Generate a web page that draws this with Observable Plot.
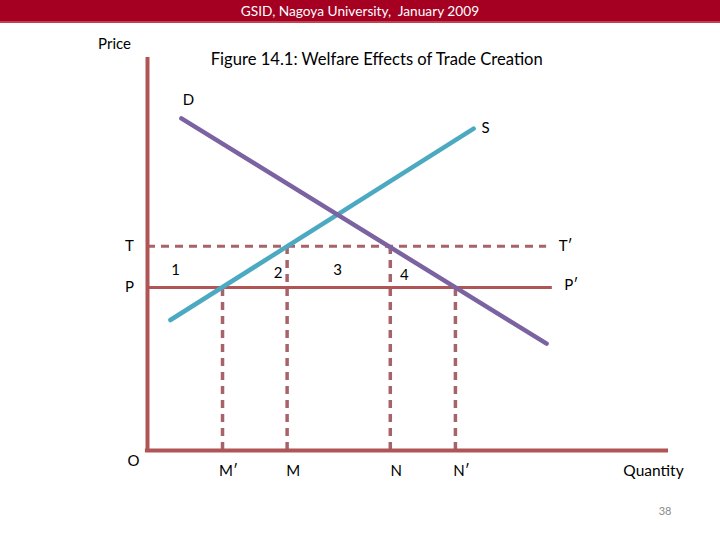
<!DOCTYPE html>
<html><head><meta charset="utf-8">
<script src="https://cdn.jsdelivr.net/npm/d3@7"></script>
<script src="https://cdn.jsdelivr.net/npm/@observablehq/plot@0.6"></script>
<style>
body{margin:0;background:#fff;}
#wrap{position:relative;width:720px;height:540px;overflow:hidden;}
#hdr{position:absolute;left:0;top:0;width:720px;height:21px;background:#a50022;border-bottom:2px solid #c2404f;color:#fff;font:13.7px Lato,"Open Sans",sans-serif;text-align:center;line-height:22px;}
#chart{position:absolute;left:0;top:0;}
</style></head>
<body><div id="wrap"><div id="chart"></div><div id="hdr">GSID, Nagoya University,&nbsp; January 2009</div></div>
<script>
// Price levels
const priceT = 52;     // tariff-inclusive price T
const priceP = 41.5;   // partner price P
// Quantities
const qMp = 14.4, qM = 26.8, qN = 46.6, qNp = 59.1;
const qLineEnd = 76.6, qPEnd = 77.7;
// Demand and supply endpoints
const demandQ = [6.5, 76.6];
const demandP = [84.5, 27.2];
const supplyQ = [4.4, 62.6];
const supplyP = [33.2, 81.9];
const qLabels = ["M′", "M", "N", "N′"];
const qValues = [qMp, qM, qN, qNp];
const areaLabels = ["1", "2", "3", "4"];

const demand = demandQ.map((q, i) => ({q, p: demandP[i]}));
const supply = supplyQ.map((q, i) => ({q, p: supplyP[i]}));
const drops = [
  {q: qMp, p: priceP}, {q: qM, p: priceT}, {q: qN, p: priceT}, {q: qNp, p: priceP}
];
const axisC = "#b05555", dashC = "#a8636a";
const F = "Lato, 'Open Sans', sans-serif";

const plot = Plot.plot({
  width: 720, height: 540,
  marginLeft: 147, marginRight: 52, marginTop: 57, marginBottom: 90,
  x: {domain: [0, 100], axis: null},
  y: {domain: [0, 100], axis: null},
  style: {fontFamily: F, background: "transparent"},
  marks: [
    // dashed drop lines
    Plot.ruleX(drops, {x: "q", y1: 0, y2: "p", stroke: dashC, strokeWidth: 3.5, strokeDasharray: "8,6"}),
    // T dashed horizontal
    Plot.ruleY([priceT], {x1: 0, x2: qLineEnd, stroke: dashC, strokeWidth: 3, strokeDasharray: "8,6"}),
    // P solid horizontal
    Plot.ruleY([priceP], {x1: 0, x2: qPEnd, stroke: axisC, strokeWidth: 3}),
    // supply & demand
    Plot.line(supply, {x: "q", y: "p", stroke: "#4ba9c2", strokeWidth: 4.5, strokeLinecap: "round"}),
    Plot.line(demand, {x: "q", y: "p", stroke: "#7b62a1", strokeWidth: 4.5, strokeLinecap: "round"}),
    // axes
    Plot.ruleX([0], {y1: 0, y2: 100, stroke: axisC, strokeWidth: 4}),
    Plot.ruleY([0], {x1: -0.4, x2: 100, stroke: axisC, strokeWidth: 4}),
    // axis titles
    Plot.text(["Price"], {frameAnchor: "top-left", dx: -33, dy: -19, fontSize: 15, fill: "#000", textAnchor: "middle"}),
    Plot.text(["Quantity"], {x: 100, y: 0, dx: -15, dy: 21, fontSize: 15.5, fill: "#000", textAnchor: "middle"}),
    Plot.text(["O"], {x: 0, y: 0, dx: -14, dy: 11, fontSize: 15, fill: "#000"}),
    Plot.text(["Figure 14.1: Welfare Effects of Trade Creation"], {x: 44, y: 100, dy: 2, fontSize: 16.6, fill: "#000", textAnchor: "middle"}),
    // curve labels
    Plot.text(["D"], {x: demandQ[0], y: demandP[0], dx: 7, dy: -18, fontSize: 15, fill: "#000"}),
    Plot.text(["S"], {x: supplyQ[1], y: supplyP[1], dx: 12, dy: 0, fontSize: 15, fill: "#000"}),
    Plot.text(["T"], {x: 0, y: priceT, dx: -18, fontSize: 15, fill: "#000"}),
    Plot.text(["P"], {x: 0, y: priceP, dx: -18, fontSize: 15, fill: "#000"}),
    Plot.text(["T′"], {x: qLineEnd, y: priceT, dx: 19, fontSize: 15, fill: "#000"}),
    Plot.text(["P′"], {x: qPEnd, y: priceP, dx: 19, dy: -2, fontSize: 15, fill: "#000"}),
    // quantity labels
    Plot.text(qValues, {x: d => d, y: 0, text: (d, i) => qLabels[i], dx: 6, dy: 21, fontSize: 15, fill: "#000"}),
    // area labels
    Plot.text([areaLabels[0]], {x: 0, y: (priceT + priceP) / 2, dx: 28, dy: 3, fontSize: 15, fill: "#000"}),
    Plot.text([areaLabels[1]], {x: qM, y: (priceT + priceP) / 2, dx: -9, dy: 6, fontSize: 15, fill: "#000"}),
    Plot.text([areaLabels[2]], {x: (qM + qN) / 2, y: (priceT + priceP) / 2, dx: -1, dy: 3, fontSize: 15, fill: "#000"}),
    Plot.text([areaLabels[3]], {x: qN, y: (priceT + priceP) / 2, dx: 14, dy: 8, fontSize: 15, fill: "#000"}),
    // page number
    Plot.text(["38"], {frameAnchor: "bottom-right", dx: 3, dy: 64, fontSize: 11, fill: "#8a8a8a"})
  ]
});
document.getElementById("chart").appendChild(plot);
</script></body></html>
